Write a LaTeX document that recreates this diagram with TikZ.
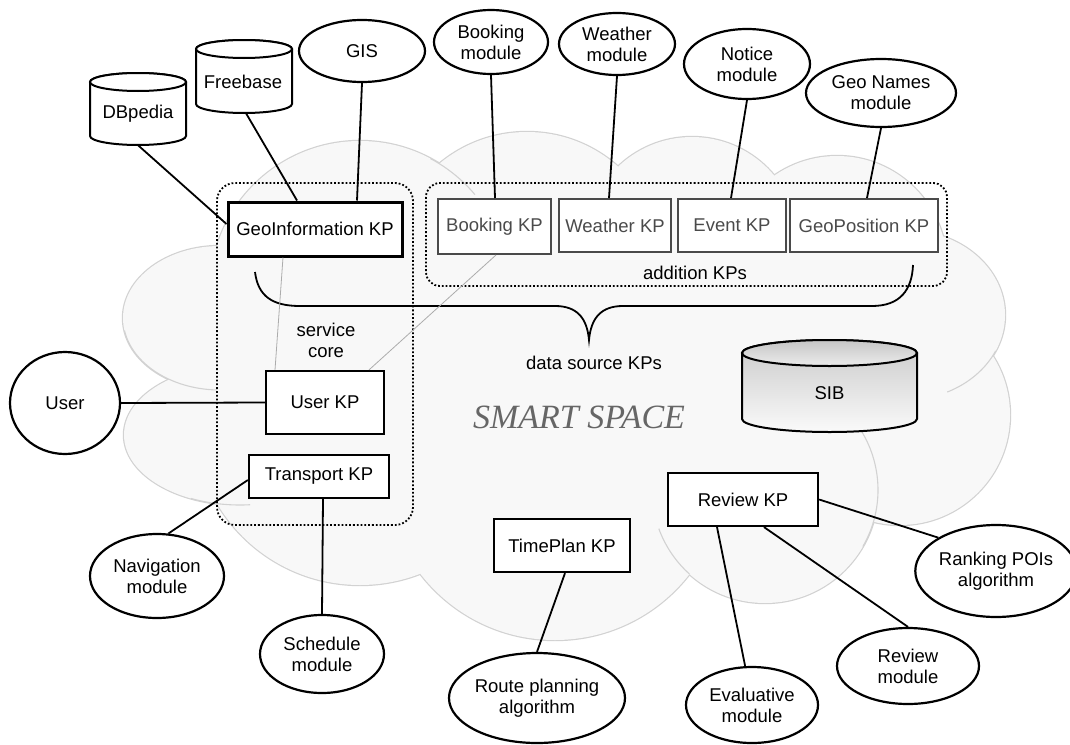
\documentclass[tikz,border=0pt]{standalone}
\usepackage{fontspec}
\setmainfont{Liberation Sans}
\newfontfamily\titleserif{Liberation Serif}
\usetikzlibrary{shapes.geometric,calc}
\definecolor{cloudfill}{HTML}{F8F8F8}
\definecolor{cloudline}{HTML}{D2D2D2}
\definecolor{kpgray}{HTML}{4A4A4A}
\newcommand\mycyl[6]{%
  \path[#6] (#1-#4,#2+#5) -- (#1-#4,#3-#5) arc[start angle=180,end angle=360,x radius=#4pt,y radius=#5pt]
     -- (#1+#4,#2+#5) arc[start angle=0,end angle=180,x radius=#4pt,y radius=#5pt] -- cycle;
}
\newcommand\mycyltop[6]{%
  \path[#6] (#1,#2+#5) ellipse[x radius=#4pt,y radius=#5pt];
}
\begin{document}
\begin{tikzpicture}[x=1pt,y=-1pt,
  lbl/.style={font=\fontsize{18.5}{21}\selectfont, align=center, inner sep=0pt},
  ell/.style={lbl, ellipse, draw, line width=2.2pt, fill=white},
  kp/.style={lbl, rectangle, draw, line width=2.2pt, fill=white},
  kpg/.style={lbl, rectangle, draw=kpgray, text=kpgray, line width=2pt, fill=white},
  conn/.style={line width=1.8pt},
  thinline/.style={draw=gray!65, line width=0.8pt},
  dotbox/.style={draw, dotted, line width=1.8pt},
  innerarc/.style={draw=cloudline, line width=1.1pt}
]
\useasboundingbox (0,0) rectangle (1070,744);

% ---------- cloud: outline pass ----------
\begin{scope}[draw=cloudline, line width=2.4pt]
\draw (220,318) ellipse[x radius=97pt,y radius=72pt];
\draw (240,435) ellipse[x radius=116pt,y radius=70pt];
\draw (360,419) circle[radius=166pt];
\draw (555,470) circle[radius=170pt];
\draw (765,490) circle[radius=113pt];
\draw (900,415) circle[radius=110pt];
\draw (905,315) ellipse[x radius=100pt,y radius=85pt];
\draw (837,266) circle[radius=110pt];
\draw (692,244) circle[radius=107pt];
\draw (527,269) circle[radius=137pt];
\draw (360,291) circle[radius=150pt];
\end{scope}
% ---------- cloud: fill pass ----------
\begin{scope}[fill=cloudfill]
\fill (220,318) ellipse[x radius=97pt,y radius=72pt];
\fill (240,435) ellipse[x radius=116pt,y radius=70pt];
\fill (360,419) circle[radius=166pt];
\fill (555,470) circle[radius=170pt];
\fill (765,490) circle[radius=113pt];
\fill (900,415) circle[radius=110pt];
\fill (905,315) ellipse[x radius=100pt,y radius=85pt];
\fill (837,266) circle[radius=110pt];
\fill (692,244) circle[radius=107pt];
\fill (527,269) circle[radius=137pt];
\fill (360,291) circle[radius=150pt];
\fill (570,370) ellipse[x radius=330pt,y radius=170pt];
\end{scope}
% inner arcs
\draw[innerarc] (220,318) ++(190:97pt and 72pt) arc[start angle=190,end angle=268,x radius=97pt,y radius=72pt];
\draw[innerarc] (240,435) ++(245:116pt and 70pt) arc[start angle=245,end angle=275,x radius=116pt,y radius=70pt];
\draw[innerarc] (765,490) ++(45:113pt) arc[start angle=45,end angle=-30,radius=113pt];
\draw[innerarc] (765,490) ++(200:113pt) arc[start angle=200,end angle=228,radius=113pt];
\draw[innerarc] (905,315) ++(-25:100pt and 85pt) arc[start angle=-25,end angle=-65,x radius=100pt,y radius=85pt];
\draw[innerarc] (360,291) ++(62:150pt) arc[start angle=62,end angle=40,radius=150pt];

% ---------- dotted groups ----------
\draw[dotbox, rounded corners=18pt] (217,183) rectangle (413,525);
\draw[dotbox, rounded corners=14pt] (426,183) rectangle (947,286);

% ---------- brace ----------
\draw[line width=1.8pt] (255,272) .. controls (258,296) and (272,306) .. (300,306) -- (555,306)
  .. controls (577,306) and (587,318) .. (589,340)
  .. controls (591,318) and (601,306) .. (623,306) -- (872,306)
  .. controls (900,306) and (912,290) .. (913,265);

% ---------- cylinders ----------
\mycyl{138}{73}{145}{48}{9}{draw, line width=2pt, fill=white}
\mycyltop{138}{73}{145}{48}{9}{draw, line width=2pt, fill=white}
\mycyl{244}{40}{113}{48}{9}{draw, line width=2pt, fill=white}
\mycyltop{244}{40}{113}{48}{9}{draw, line width=2pt, fill=white}
\mycyl{829.5}{340}{432}{87.5}{13}{draw, line width=2pt, top color=gray!42, bottom color=gray!4}
\mycyltop{829.5}{340}{432}{87.5}{13}{draw, line width=2pt, top color=gray!45, bottom color=gray!15}

\node[lbl, minimum width=96pt, minimum height=72pt] (db) at (138,109) {};
\node[lbl] (dbt) at (138,114) {DBpedia};
\node[lbl, minimum width=96pt, minimum height=73pt] (fb) at (244,76.5) {};
\node[lbl] (fbt) at (243,82) {Freebase};
\node[lbl, minimum width=175pt, minimum height=92pt] (sib) at (829.5,386) {};
\node[lbl] (sibt) at (829.5,393) {SIB};

% ---------- KP boxes ----------
\node[kp, line width=3pt, minimum width=174pt, minimum height=54pt] (geo) at (315,229) {GeoInformation KP};
\node[kpg, minimum width=113pt, minimum height=55pt] (bkp) at (494.5,226.5) {Booking KP};
\node[kpg, minimum width=112pt, minimum height=53pt] (wkp) at (615,225.5) {Weather KP};
\node[kpg, minimum width=108pt, minimum height=53pt] (ekp) at (732,225.5) {Event KP};
\node[kpg, minimum width=148pt, minimum height=53pt] (gpkp) at (864,225.5) {GeoPosition KP};
\node[kp, minimum width=118pt, minimum height=63pt] (ukp) at (325,402.5) {User KP};
\node[kp, minimum width=140pt, minimum height=43pt] (tkp) at (319,476.5) {Transport KP};
\node[kp, minimum width=136pt, minimum height=53pt] (tp) at (562,545.5) {TimePlan KP};
\node[kp, minimum width=150pt, minimum height=53pt] (rkp) at (743,499.5) {Review KP};

% ---------- ellipses ----------
\node[ell, minimum width=126pt, minimum height=62pt] (gis) at (362,51) {GIS};
\node[ell, minimum width=114pt, minimum height=64pt] (bm) at (491,42) {Booking\\module};
\node[ell, minimum width=116pt, minimum height=62pt] (wm) at (617,44) {Weather\\module};
\node[ell, minimum width=126pt, minimum height=70pt] (nm) at (747,64) {Notice\\module};
\node[ell, minimum width=150pt, minimum height=68pt] (gn) at (881,93) {Geo Names\\module};
\node[ell, minimum width=110pt, minimum height=102pt] (user) at (65,403) {User};
\node[ell, minimum width=134pt, minimum height=84pt] (nav) at (157,576) {Navigation\\module};
\node[ell, minimum width=124pt, minimum height=78pt] (sched) at (322,654) {Schedule\\module};
\node[ell, minimum width=168pt, minimum height=90pt] (route) at (537,698) {Route planning\\algorithm};
\node[ell, minimum width=132pt, minimum height=76pt] (ev) at (752,705) {Evaluative\\module};
\node[ell, minimum width=142pt, minimum height=76pt] (rm) at (908,666) {Review\\module};
\node[ell, minimum width=144pt, minimum height=92pt] (rank) at (996,571) {Ranking POIs\\algorithm};

% ---------- labels ----------
\node[lbl] (sc) at (326,340) {service\\core};
\node[lbl] (add) at (695,273) {addition KPs};
\node[lbl] (dsk) at (594,363) {data source KPs};
\node[inner sep=0pt, text=gray!80!black, font=\titleserif\itshape\fontsize{34}{34}\selectfont] (ss) at (579,417) {SMART SPACE};

% ---------- connectors ----------
\draw[conn] (db.south) -- (geo.west |- 0,224);
\draw[conn] (246,0 |- fb.south) -- (297,0 |- geo.north);
\draw[conn] (gis.south) -- (357,0 |- geo.north);
\draw[conn] (bm.south) -- (495,0 |- bkp.north);
\draw[conn] (wm.south) -- (609,0 |- wkp.north);
\draw[conn] (nm.south) -- (731,0 |- ekp.north);
\draw[conn] (gn.south) -- (867,0 |- gpkp.north);
\draw[conn] (user.east) -- (ukp.west);
\draw[conn] (tkp.west |- 0,480) -- (nav.75);
\draw[conn] (323,0 |- tkp.south) -- (sched.north);
\draw[conn] (565,0 |- tp.south) -- (route.north);
\draw[conn] (717,0 |- rkp.south) -- (ev.100);
\draw[conn] (764,0 |- rkp.south) -- (rm.north);
\draw[conn] (rkp.east) -- (rank.150);
\draw[thinline] (283,0 |- geo.south) -- (275,0 |- ukp.north);
\draw[thinline] (496,0 |- bkp.south) -- (369,0 |- ukp.north);
\end{tikzpicture}
\end{document}
